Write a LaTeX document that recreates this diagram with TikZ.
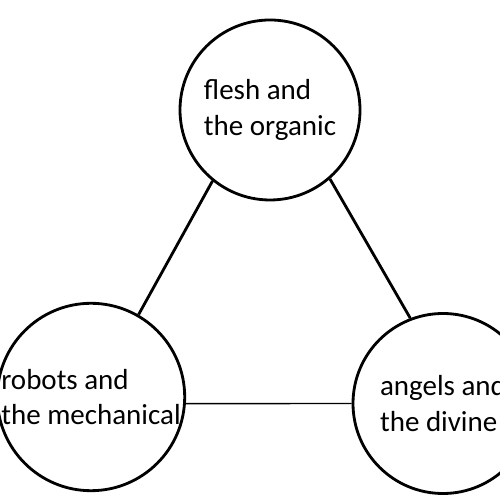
\documentclass[tikz,border=0pt]{standalone}
\usepackage{fontspec}
\setmainfont{Carlito}
\usepackage{tikz}

\begin{document}
\begin{tikzpicture}[every node/.style={circle,draw,line width=1.6pt,minimum size=3.6cm,inner sep=0pt,align=left,font=\fontsize{16.5}{20}\selectfont}]
\useasboundingbox (0,0) rectangle (10,10);
\node (flesh) at (5.4,7.8) {flesh and\\the organic};
\node (robots) at (1.82,2.06) {robots and\\the mechanical};
\node (angels) at (8.86,1.93) {angels and\\the divine};
\draw[line width=1.6pt] (flesh.231) -- (robots.60);
\draw[line width=1.6pt] (flesh.311) -- (angels.111);
\draw[line width=0.8pt] (robots.-4) -- (angels.west);
\end{tikzpicture}
\end{document}
